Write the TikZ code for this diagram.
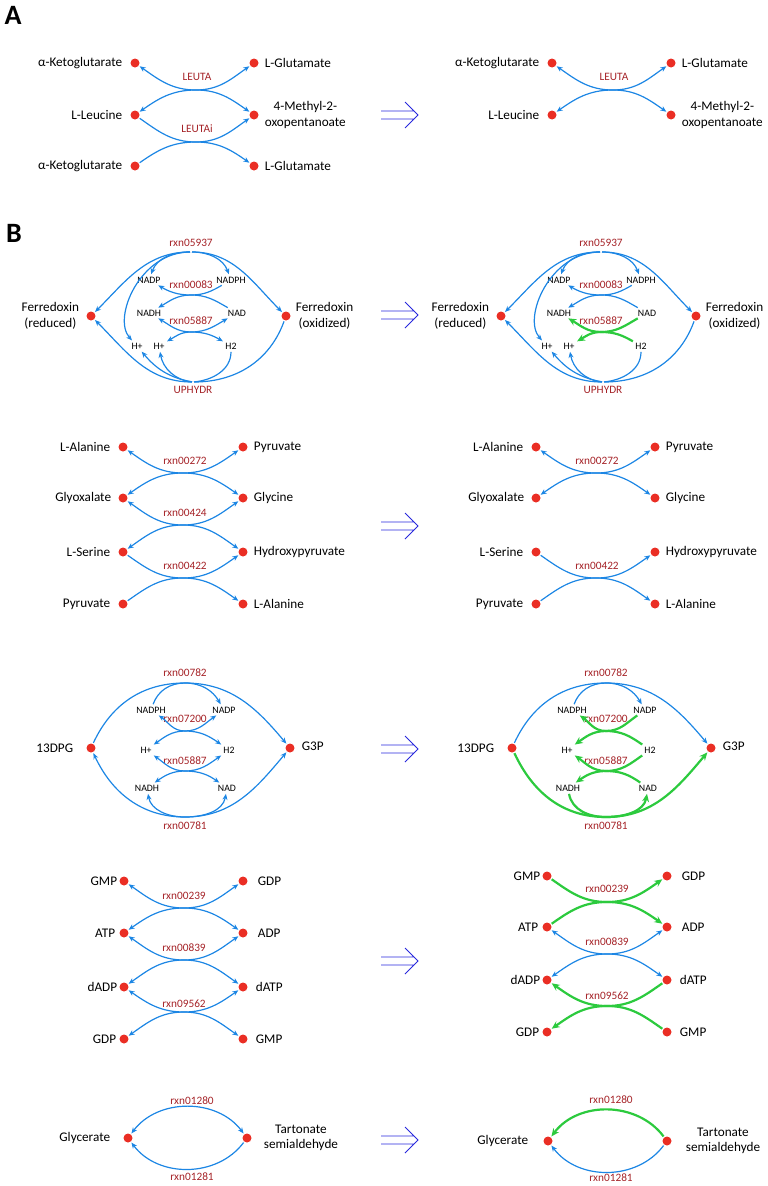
\documentclass[tikz,border=0pt]{standalone}
\usepackage{fontspec}
\setmainfont{Carlito}
\usetikzlibrary{positioning,arrows.meta}
\definecolor{dotred}{RGB}{234,46,36}
\definecolor{fluxblue}{RGB}{28,134,228}
\definecolor{fluxgreen}{RGB}{44,202,62}
\definecolor{rxnred}{RGB}{165,35,40}
\definecolor{implblue}{RGB}{40,40,220}
\tikzset{
  met/.style={circle,fill=dotred,inner sep=0pt,minimum size=9pt},
  metlbl/.style={font=\fontsize{13.2}{15.5}\selectfont,inner sep=0pt,align=center},
  rxnlbl/.style={font=\fontsize{11.3}{13}\selectfont,text=rxnred,inner sep=0pt},
  cof/.style={font=\fontsize{9.8}{11}\selectfont,inner sep=1.5pt},
  flux/.style={draw=fluxblue,line width=1.2pt,>={Stealth[length=6pt,width=5pt]},shorten >=1pt,shorten <=1pt},
  gflux/.style={draw=fluxgreen,line width=2.2pt,>={Stealth[length=8pt,width=7pt]},shorten >=1pt,shorten <=1pt},
  simplify/.style={draw=implblue,line width=0.9pt},
  panel/.style={font=\bfseries\fontsize{28}{28}\selectfont,inner sep=0pt}
}
\begin{document}
\begin{tikzpicture}[x=1pt,y=1pt]
\useasboundingbox (0,0) rectangle (768,-1186);

% double arrows between the two columns
\foreach \y in {115,315,526,749,961,1140}{
  \draw[simplify] (381,-\y+4) -- (414,-\y+4) (381,-\y-4) -- (414,-\y-4) (405,-\y+13) -- (418,-\y) -- (405,-\y-13);
}

%%% A
\node[panel] (pA) at (13,-15) {A};
\node[met] (akgA) at (135,-63) {};
\node[met] (leuA) at (135,-115) {};
\node[met] (akgB) at (135,-166) {};
\node[met] (gluA) at (254,-63) {};
\node[met] (mopA) at (254,-115) {};
\node[met] (gluB) at (254,-166) {};
\node[metlbl,left=8pt of akgA] (akgAl) {α-Ketoglutarate};
\node[metlbl,left=8pt of leuA] (leuAl) {L-Leucine};
\node[metlbl,left=8pt of akgB] (akgBl) {α-Ketoglutarate};
\node[metlbl,right=6pt of gluA] (gluAl) {L-Glutamate};
\node[metlbl,right=6pt of mopA] (mopAl) {4-Methyl-2-\\oxopentanoate};
\node[metlbl,right=6pt of gluB] (gluBl) {L-Glutamate};
\coordinate (tA1) at (196,-90);
\coordinate (tA2) at (196,-142);
\node[rxnlbl] (leuta) at (197,-77) {LEUTA};
\node[rxnlbl] (leutai) at (197,-129) {LEUTAi};
\draw[flux,<->] (akgA) to[out=-35,in=180] (tA1) to[out=0,in=-145] (gluA);
\draw[flux,<->] (leuA) to[out=35,in=180] (tA1) to[out=0,in=145] (mopA);
\draw[flux,->] (leuA) to[out=-35,in=180] (tA2) to[out=0,in=-145] (mopA);
\draw[flux,->] (akgB) to[out=35,in=180] (tA2) to[out=0,in=145] (gluB);

\node[met] (akgAr) at (552,-63) {};
\node[met] (leuAr) at (552,-115) {};
\node[met] (gluAr) at (671,-63) {};
\node[met] (mopAr) at (671,-115) {};
\node[metlbl,left=8pt of akgAr] (akgArl) {α-Ketoglutarate};
\node[metlbl,left=8pt of leuAr] (leuArl) {L-Leucine};
\node[metlbl,right=6pt of gluAr] (gluArl) {L-Glutamate};
\node[metlbl,right=6pt of mopAr] (mopArl) {4-Methyl-2-\\oxopentanoate};
\coordinate (tA1r) at (613,-90);
\node[rxnlbl] (leutar) at (614,-77) {LEUTA};
\draw[flux,<->] (akgAr) to[out=-35,in=180] (tA1r) to[out=0,in=-145] (gluAr);
\draw[flux,<->] (leuAr) to[out=35,in=180] (tA1r) to[out=0,in=145] (mopAr);

%%% B: ferredoxin
\node[panel] (pB) at (14,-233) {B};
\node[met] (fdr) at (91,-316) {};
\node[met] (fdo) at (286,-316) {};
\node[metlbl,left=7pt of fdr] (fdrl) {Ferredoxin\\(reduced)};
\node[metlbl,right=5pt of fdo] (fdol) {Ferredoxin\\(oxidized)};
\node[cof] (nadpF) at (149,-280) {NADP};
\node[cof] (nadphF) at (231,-280) {NADPH};
\node[cof] (nadhF) at (149,-313) {NADH};
\node[cof] (nadF) at (237,-313) {NAD};
\node[cof] (hpF) at (137,-346) {H+};
\node[cof] (hqF) at (159,-346) {H+};
\node[cof] (h2F) at (231,-346) {H2};
\coordinate (tF1) at (191,-252);
\coordinate (tF2) at (191,-295);
\coordinate (tF3) at (191,-332);
\coordinate (tF4) at (193,-382);
\node[rxnlbl] (r05937) at (191,-243) {rxn05937};
\node[rxnlbl] (r00083) at (191,-285) {rxn00083};
\node[rxnlbl] (r05887) at (191,-321) {rxn05887};
\node[rxnlbl] (uphydr) at (193,-390) {UPHYDR};
\draw[flux,->] (tF1) to[out=180,in=45] (fdr);
\draw[flux,->] (tF1) to[out=0,in=135] (fdo);
\draw[flux,->] (tF1) to[out=180,in=70] (nadpF);
\draw[flux,->] (tF1) to[out=0,in=110] (nadphF);
\draw[flux,->] (tF1) .. controls (140,-252) and (112,-318) .. (hpF);
\draw[flux,->] (nadphF) to[out=-150,in=0] (tF2) to[out=180,in=-30] (nadpF);
\draw[flux,->] (nadF) to[out=150,in=0] (tF2) to[out=180,in=30] (nadhF);
\draw[flux,<->] (nadhF) to[out=-30,in=180] (tF3) to[out=0,in=-150] (nadF);
\draw[flux,<->] (hqF) to[out=30,in=180] (tF3) to[out=0,in=150] (h2F);
\draw[flux,->] (tF4) to[out=180,in=-45] (fdr);
\draw[flux] (tF4) to[out=0,in=-110] (fdo);
\draw[flux,->] (tF4) to[out=170,in=-50] (hpF);
\draw[flux,->] (tF4) to[out=175,in=-80] (hqF);
\draw[flux] (tF4) to[out=5,in=-90] (h2F);

\node[met] (fdrr) at (501,-316) {};
\node[met] (fdor) at (696,-316) {};
\node[metlbl,left=7pt of fdrr] (fdrrl) {Ferredoxin\\(reduced)};
\node[metlbl,right=5pt of fdor] (fdorl) {Ferredoxin\\(oxidized)};
\node[cof] (nadpFr) at (559,-280) {NADP};
\node[cof] (nadphFr) at (641,-280) {NADPH};
\node[cof] (nadhFr) at (559,-313) {NADH};
\node[cof] (nadFr) at (647,-313) {NAD};
\node[cof] (hpFr) at (547,-346) {H+};
\node[cof] (hqFr) at (569,-346) {H+};
\node[cof] (h2Fr) at (641,-346) {H2};
\coordinate (tF1r) at (601,-252);
\coordinate (tF2r) at (601,-295);
\coordinate (tF3r) at (601,-332);
\coordinate (tF4r) at (603,-382);
\node[rxnlbl] (r05937r) at (601,-243) {rxn05937};
\node[rxnlbl] (r00083r) at (601,-285) {rxn00083};
\node[rxnlbl] (r05887r) at (601,-321) {rxn05887};
\node[rxnlbl] (uphydrr) at (603,-390) {UPHYDR};
\draw[flux,->] (tF1r) to[out=180,in=45] (fdrr);
\draw[flux,->] (tF1r) to[out=0,in=135] (fdor);
\draw[flux,->] (tF1r) to[out=180,in=70] (nadpFr);
\draw[flux,->] (tF1r) to[out=0,in=110] (nadphFr);
\draw[flux,->] (tF1r) .. controls (550,-252) and (522,-318) .. (hpFr);
\draw[flux,->] (nadphFr) to[out=-150,in=0] (tF2r) to[out=180,in=-30] (nadpFr);
\draw[flux,->] (nadFr) to[out=150,in=0] (tF2r) to[out=180,in=30] (nadhFr);
\draw[gflux,->] (nadFr) to[out=-150,in=0] (tF3r) to[out=180,in=-30] (nadhFr);
\draw[gflux,->] (h2Fr) to[out=150,in=0] (tF3r) to[out=180,in=30] (hqFr);
\draw[flux,->] (tF4r) to[out=180,in=-45] (fdrr);
\draw[flux] (tF4r) to[out=0,in=-110] (fdor);
\draw[flux,->] (tF4r) to[out=170,in=-50] (hpFr);
\draw[flux,->] (tF4r) to[out=175,in=-80] (hqFr);
\draw[flux] (tF4r) to[out=5,in=-90] (h2Fr);

%%% B: amino acids
\node[met] (alaG) at (123,-447) {};
\node[met] (pyrG) at (243,-447) {};
\node[met] (glxG) at (123,-498) {};
\node[met] (glyG) at (243,-498) {};
\node[met] (serG) at (123,-552) {};
\node[met] (hpyG) at (243,-552) {};
\node[met] (pyrH) at (123,-604) {};
\node[met] (alaH) at (243,-604) {};
\node[metlbl,left=8pt of alaG] (alaGl) {L-Alanine};
\node[metlbl,right=6pt of pyrG] (pyrGl) {Pyruvate};
\node[metlbl,left=7pt of glxG] (glxGl) {Glyoxalate};
\node[metlbl,right=6pt of glyG] (glyGl) {Glycine};
\node[metlbl,left=8pt of serG] (serGl) {L-Serine};
\node[metlbl,right=6pt of hpyG] (hpyGl) {Hydroxypyruvate};
\node[metlbl,left=8pt of pyrH] (pyrHl) {Pyruvate};
\node[metlbl,right=6pt of alaH] (alaHl) {L-Alanine};
\coordinate (tG1) at (183,-473);
\coordinate (tG2) at (183,-525);
\coordinate (tG3) at (183,-578);
\node[rxnlbl] (r00272) at (185,-461) {rxn00272};
\node[rxnlbl] (r00424) at (185,-513) {rxn00424};
\node[rxnlbl] (r00422) at (185,-566) {rxn00422};
\draw[flux,<->] (alaG) to[out=-35,in=180] (tG1) to[out=0,in=-145] (pyrG);
\draw[flux,<->] (glxG) to[out=35,in=180] (tG1) to[out=0,in=145] (glyG);
\draw[flux,<->] (glxG) to[out=-35,in=180] (tG2) to[out=0,in=-145] (glyG);
\draw[flux,<->] (serG) to[out=35,in=180] (tG2) to[out=0,in=145] (hpyG);
\draw[flux,->] (serG) to[out=-35,in=180] (tG3) to[out=0,in=-145] (hpyG);
\draw[flux,->] (pyrH) to[out=35,in=180] (tG3) to[out=0,in=145] (alaH);

\node[met] (alaGr) at (536,-447) {};
\node[met] (pyrGr) at (655,-447) {};
\node[met] (glxGr) at (536,-498) {};
\node[met] (glyGr) at (655,-498) {};
\node[met] (serGr) at (536,-552) {};
\node[met] (hpyGr) at (655,-552) {};
\node[met] (pyrHr) at (536,-604) {};
\node[met] (alaHr) at (655,-604) {};
\node[metlbl,left=8pt of alaGr] (alaGrl) {L-Alanine};
\node[metlbl,right=6pt of pyrGr] (pyrGrl) {Pyruvate};
\node[metlbl,left=7pt of glxGr] (glxGrl) {Glyoxalate};
\node[metlbl,right=6pt of glyGr] (glyGrl) {Glycine};
\node[metlbl,left=8pt of serGr] (serGrl) {L-Serine};
\node[metlbl,right=6pt of hpyGr] (hpyGrl) {Hydroxypyruvate};
\node[metlbl,left=8pt of pyrHr] (pyrHrl) {Pyruvate};
\node[metlbl,right=6pt of alaHr] (alaHrl) {L-Alanine};
\coordinate (tG1r) at (596,-473);
\coordinate (tG3r) at (596,-578);
\node[rxnlbl] (r00272r) at (597,-461) {rxn00272};
\node[rxnlbl] (r00422r) at (597,-566) {rxn00422};
\draw[flux,<->] (alaGr) to[out=-35,in=180] (tG1r) to[out=0,in=-145] (pyrGr);
\draw[flux,<->] (glxGr) to[out=35,in=180] (tG1r) to[out=0,in=145] (glyGr);
\draw[flux,->] (serGr) to[out=-35,in=180] (tG3r) to[out=0,in=-145] (hpyGr);
\draw[flux,->] (pyrHr) to[out=35,in=180] (tG3r) to[out=0,in=145] (alaHr);

%%% B: glycolysis
\node[met] (dpg) at (91,-748) {};
\node[met] (g3p) at (290,-748) {};
\node[metlbl,left=13pt of dpg] (dpgl) {13DPG};
\node[metlbl,right=7pt of g3p,yshift=2pt] (g3pl) {G3P};
\node[cof] (nadphD) at (151,-710) {NADPH};
\node[cof] (nadpD) at (224,-710) {NADP};
\node[cof] (hpD) at (146,-750) {H+};
\node[cof] (h2D) at (229,-750) {H2};
\node[cof] (nadhD) at (147,-788) {NADH};
\node[cof] (nadD) at (227,-788) {NAD};
\coordinate (tD1) at (185,-683);
\coordinate (tD2) at (185,-731);
\coordinate (tD3) at (185,-771);
\coordinate (tD4) at (185,-817);
\node[rxnlbl] (r00782) at (185,-673) {rxn00782};
\node[rxnlbl] (r07200) at (185,-719) {rxn07200};
\node[rxnlbl] (r05887D) at (185,-761) {rxn05887};
\node[rxnlbl] (r00781) at (185,-826) {rxn00781};
\draw[flux,->] (dpg) to[out=65,in=180] (tD1) to[out=0,in=130] (g3p);
\draw[flux,->] (nadphD) to[out=70,in=180] (tD1) to[out=0,in=120] (nadpD);
\draw[flux,<->] (nadphD) to[out=-35,in=180] (tD2) to[out=0,in=-145] (nadpD);
\draw[flux,<->] (hpD) to[out=35,in=180] (tD2) to[out=0,in=145] (h2D);
\draw[flux,<->] (hpD) to[out=-35,in=180] (tD3) to[out=0,in=-145] (h2D);
\draw[flux,<->] (nadhD) to[out=35,in=180] (tD3) to[out=0,in=145] (nadD);
\draw[flux,<->] (dpg) to[out=-65,in=180] (tD4) to[out=0,in=-130] (g3p);
\draw[flux,<->] (nadhD) to[out=-80,in=180] (tD4) to[out=0,in=-100] (nadD);

\node[met] (dpgr) at (512,-748) {};
\node[met] (g3pr) at (711,-748) {};
\node[metlbl,left=13pt of dpgr] (dpgrl) {13DPG};
\node[metlbl,right=7pt of g3pr,yshift=2pt] (g3prl) {G3P};
\node[cof] (nadphDr) at (572,-710) {NADPH};
\node[cof] (nadpDr) at (645,-710) {NADP};
\node[cof] (hpDr) at (567,-750) {H+};
\node[cof] (h2Dr) at (650,-750) {H2};
\node[cof] (nadhDr) at (568,-788) {NADH};
\node[cof] (nadDr) at (648,-788) {NAD};
\coordinate (tD1r) at (606,-683);
\coordinate (tD2r) at (606,-731);
\coordinate (tD3r) at (606,-771);
\coordinate (tD4r) at (606,-817);
\node[rxnlbl] (r00782r) at (606,-673) {rxn00782};
\node[rxnlbl] (r07200r) at (606,-719) {rxn07200};
\node[rxnlbl] (r05887Dr) at (606,-761) {rxn05887};
\node[rxnlbl] (r00781r) at (606,-826) {rxn00781};
\draw[flux,->] (dpgr) to[out=65,in=180] (tD1r) to[out=0,in=130] (g3pr);
\draw[flux,->] (nadphDr) to[out=70,in=180] (tD1r) to[out=0,in=120] (nadpDr);
\draw[gflux,->] (nadpDr) to[out=-145,in=0] (tD2r) to[out=180,in=-35] (nadphDr);
\draw[gflux,->] (h2Dr) to[out=145,in=0] (tD2r) to[out=180,in=35] (hpDr);
\draw[gflux,->] (h2Dr) to[out=-145,in=0] (tD3r) to[out=180,in=-35] (hpDr);
\draw[gflux,->] (nadDr) to[out=145,in=0] (tD3r) to[out=180,in=35] (nadhDr);
\draw[gflux,->] (dpgr) to[out=-65,in=180] (tD4r) to[out=0,in=-130] (g3pr);
\draw[gflux,->] (nadhDr) to[out=-80,in=180] (tD4r) to[out=0,in=-100] (nadDr);

%%% B: nucleotides
\node[met] (gmpN) at (124,-881) {};
\node[met] (gdpN) at (243,-881) {};
\node[met] (atpN) at (124,-933) {};
\node[met] (adpN) at (243,-933) {};
\node[met] (dadpN) at (124,-987) {};
\node[met] (datpN) at (243,-987) {};
\node[met] (gdpM) at (124,-1039) {};
\node[met] (gmpM) at (243,-1039) {};
\node[metlbl,left=2pt of gmpN] (gmpNl) {GMP};
\node[metlbl,right=10pt of gdpN] (gdpNl) {GDP};
\node[metlbl,left=4pt of atpN] (atpNl) {ATP};
\node[metlbl,right=10pt of adpN] (adpNl) {ADP};
\node[metlbl,left=2pt of dadpN] (dadpNl) {dADP};
\node[metlbl,right=8pt of datpN] (datpNl) {dATP};
\node[metlbl,left=3pt of gdpM] (gdpMl) {GDP};
\node[metlbl,right=8pt of gmpM] (gmpMl) {GMP};
\coordinate (tN1) at (184,-908);
\coordinate (tN2) at (184,-960);
\coordinate (tN3) at (184,-1012);
\node[rxnlbl] (r00239) at (184,-896) {rxn00239};
\node[rxnlbl] (r00839) at (184,-948) {rxn00839};
\node[rxnlbl] (r09562) at (184,-1004) {rxn09562};
\draw[flux,<->] (gmpN) to[out=-35,in=180] (tN1) to[out=0,in=-145] (gdpN);
\draw[flux,<->] (atpN) to[out=35,in=180] (tN1) to[out=0,in=145] (adpN);
\draw[flux,<->] (atpN) to[out=-35,in=180] (tN2) to[out=0,in=-145] (adpN);
\draw[flux,<->] (dadpN) to[out=35,in=180] (tN2) to[out=0,in=145] (datpN);
\draw[flux,<->] (dadpN) to[out=-35,in=180] (tN3) to[out=0,in=-145] (datpN);
\draw[flux,<->] (gdpM) to[out=35,in=180] (tN3) to[out=0,in=145] (gmpM);

\node[met] (gmpNr) at (547,-876) {};
\node[met] (gdpNr) at (667,-876) {};
\node[met] (atpNr) at (547,-927) {};
\node[met] (adpNr) at (667,-927) {};
\node[met] (dadpNr) at (547,-980) {};
\node[met] (datpNr) at (667,-980) {};
\node[met] (gdpMr) at (547,-1032) {};
\node[met] (gmpMr) at (667,-1032) {};
\node[metlbl,left=2pt of gmpNr] (gmpNrl) {GMP};
\node[metlbl,right=10pt of gdpNr] (gdpNrl) {GDP};
\node[metlbl,left=4pt of atpNr] (atpNrl) {ATP};
\node[metlbl,right=10pt of adpNr] (adpNrl) {ADP};
\node[metlbl,left=2pt of dadpNr] (dadpNrl) {dADP};
\node[metlbl,right=8pt of datpNr] (datpNrl) {dATP};
\node[metlbl,left=3pt of gdpMr] (gdpMrl) {GDP};
\node[metlbl,right=8pt of gmpMr] (gmpMrl) {GMP};
\coordinate (tN1r) at (607,-902);
\coordinate (tN2r) at (607,-954);
\coordinate (tN3r) at (607,-1006);
\node[rxnlbl] (r00239r) at (607,-889) {rxn00239};
\node[rxnlbl] (r00839r) at (607,-942) {rxn00839};
\node[rxnlbl] (r09562r) at (607,-996) {rxn09562};
\draw[gflux,->] (gmpNr) to[out=-35,in=180] (tN1r) to[out=0,in=145] (adpNr);
\draw[gflux,->] (atpNr) to[out=35,in=180] (tN1r) to[out=0,in=-145] (gdpNr);
\draw[flux,<->] (atpNr) to[out=-35,in=180] (tN2r) to[out=0,in=-145] (adpNr);
\draw[flux,<->] (dadpNr) to[out=35,in=180] (tN2r) to[out=0,in=145] (datpNr);
\draw[gflux,->] (datpNr) to[out=-145,in=0] (tN3r) to[out=180,in=-35] (dadpNr);
\draw[gflux,->] (gmpMr) to[out=145,in=0] (tN3r) to[out=180,in=35] (gdpMr);

%%% B: glycerate
\node[met] (glyc) at (128,-1138) {};
\node[met] (tart) at (247,-1138) {};
\node[metlbl,left=13pt of glyc] (glycl) {Glycerate};
\node[metlbl,right=12pt of tart] (tartl) {Tartonate\\semialdehyde};
\node[rxnlbl] (r01280) at (192,-1101) {rxn01280};
\node[rxnlbl] (r01281) at (192,-1177) {rxn01281};
\draw[flux,<->] (glyc) .. controls +(30,40) and +(-30,40) .. (tart);
\draw[flux,->] (tart) .. controls +(-30,-40) and +(30,-40) .. (glyc);

\node[met] (glycr) at (548,-1141) {};
\node[met] (tartr) at (667,-1141) {};
\node[metlbl,left=15pt of glycr] (glycrl) {Glycerate};
\node[metlbl,right=14pt of tartr] (tartrl) {Tartonate\\semialdehyde};
\node[rxnlbl] (r01280r) at (611,-1100) {rxn01280};
\node[rxnlbl] (r01281r) at (611,-1178) {rxn01281};
\draw[gflux,->] (tartr) .. controls +(-30,40) and +(30,40) .. (glycr);
\draw[flux,->] (tartr) .. controls +(-30,-40) and +(30,-40) .. (glycr);
\end{tikzpicture}
\end{document}
